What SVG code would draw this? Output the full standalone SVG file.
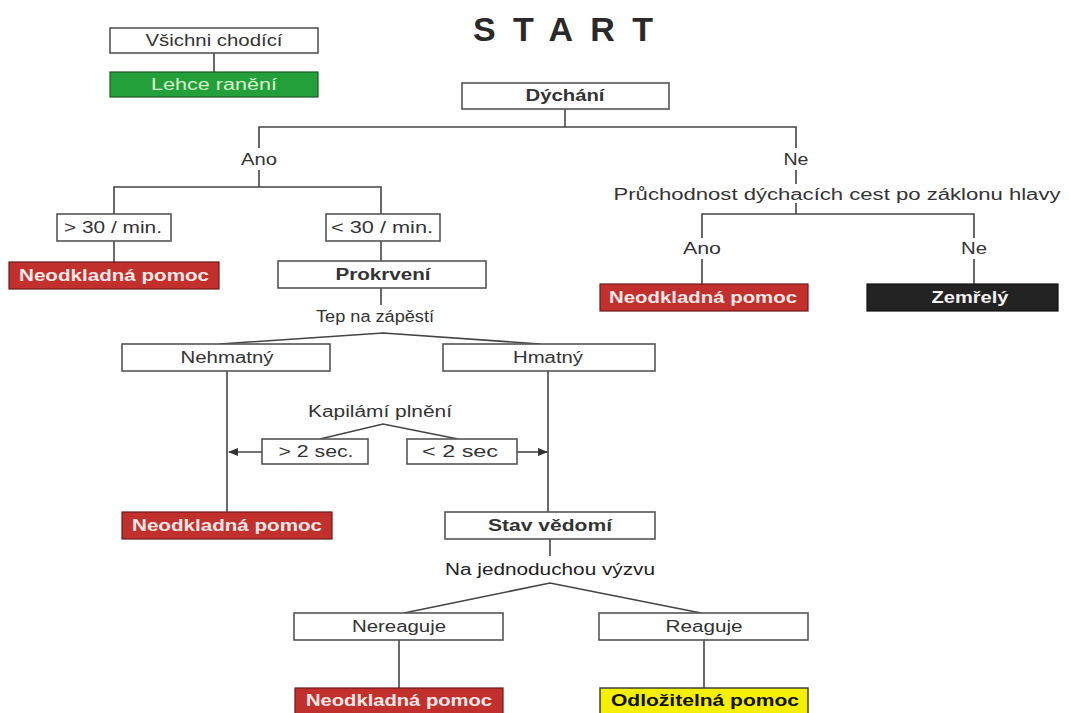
<svg xmlns="http://www.w3.org/2000/svg" width="1069" height="713" viewBox="0 0 1069 713">
<defs>
<style>
text{font-family:"Liberation Sans",Arial,sans-serif;font-size:16px;fill:#333;text-anchor:middle}
.b{font-weight:bold}
.w{fill:#fff;stroke:#555;stroke-width:1.6}
.red{fill:#c2302e;stroke:#6a1a1a;stroke-width:1.2}
.grn{fill:#23a03a;stroke:#1b5a22;stroke-width:1.2}
.blk{fill:#232323;stroke:#111;stroke-width:1.2}
.yel{fill:#f4f000;stroke:#333;stroke-width:1.4}
.tr{fill:#fbe8e6;font-weight:bold}
.tg{fill:#d6f5cc}
.tk{fill:#f2f2f2;font-weight:bold}
.c line,.c polyline{stroke:#444;stroke-width:1.6;fill:none}
</style>
<marker id="ah" viewBox="0 0 10 10" refX="9" refY="5" markerWidth="11" markerHeight="10" markerUnits="userSpaceOnUse" orient="auto">
<path d="M0,1 L10,5 L0,9 Z" fill="#333"/>
</marker>
</defs>
<rect width="1069" height="713" fill="#fff"/>
<text x="563" y="41" class="b" style="font-size:34px;fill:#2a2a2a" textLength="180" lengthAdjust="spacing">START</text>

<g class="c" id="connectors">
<line x1="214" y1="53" x2="214" y2="72"/>
<line x1="565" y1="109" x2="565" y2="127"/>
<polyline points="259,148 259,127 796,127 796,148"/>
<line x1="259" y1="170" x2="259" y2="187"/>
<polyline points="114,214 114,187 381,187 381,214"/>
<line x1="114" y1="241" x2="114" y2="262"/>
<line x1="381" y1="241" x2="381" y2="261"/>
<line x1="796" y1="170" x2="796" y2="184"/>
<line x1="796" y1="203" x2="796" y2="214"/>
<polyline points="702,238 702,214 974,214 974,238"/>
<line x1="702" y1="259" x2="702" y2="284"/>
<line x1="974" y1="259" x2="974" y2="284"/>
<line x1="381" y1="288" x2="381" y2="305"/>
<polyline points="220,344 383,333 540,344"/>
<line x1="227" y1="371" x2="227" y2="512"/>
<line x1="548" y1="371" x2="548" y2="512"/>
<polyline points="320,439 383,424 458,439"/>
<line x1="262" y1="452" x2="229" y2="452" marker-end="url(#ah)"/>
<line x1="517" y1="452" x2="547" y2="452" marker-end="url(#ah)"/>
<line x1="550" y1="539" x2="550" y2="556"/>
<polyline points="404,613 550,583 701,613"/>
<line x1="399" y1="640" x2="399" y2="688"/>
<line x1="704" y1="640" x2="704" y2="688"/>
</g>

<g id="vsichni"><rect class="w" x="110" y="28" width="208" height="25"/><text x="214" y="46" textLength="137" lengthAdjust="spacingAndGlyphs">Všichni chodící</text></g>
<g id="lehce"><rect class="grn" x="110" y="72" width="208" height="25"/><text class="tg" x="214" y="90" textLength="126" lengthAdjust="spacingAndGlyphs">Lehce ranění</text></g>
<g id="dychani"><rect class="w" x="462" y="83" width="207" height="26"/><text class="b" x="565" y="101" textLength="79" lengthAdjust="spacingAndGlyphs">Dýchání</text></g>
<g id="ano1"><text x="259" y="165" textLength="36" lengthAdjust="spacingAndGlyphs">Ano</text></g>
<g id="ne1"><text x="796" y="165" textLength="25" lengthAdjust="spacingAndGlyphs">Ne</text></g>
<g id="pruchodnost"><text x="837" y="200" textLength="447" lengthAdjust="spacingAndGlyphs">Průchodnost dýchacích cest po záklonu hlavy</text></g>
<g id="ano2"><text x="702" y="254" textLength="38" lengthAdjust="spacingAndGlyphs">Ano</text></g>
<g id="ne2"><text x="974" y="254" textLength="26" lengthAdjust="spacingAndGlyphs">Ne</text></g>
<g id="gt30"><rect class="w" x="57" y="214" width="114" height="27"/><text x="113" y="233" textLength="98" lengthAdjust="spacingAndGlyphs">&gt; 30 / min.</text></g>
<g id="lt30"><rect class="w" x="326" y="214" width="114" height="27"/><text x="382" y="233" textLength="102" lengthAdjust="spacingAndGlyphs">&lt; 30 / min.</text></g>
<g id="neod1"><rect class="red" x="9" y="262" width="210" height="27"/><text class="tr" x="114" y="281" textLength="190" lengthAdjust="spacingAndGlyphs">Neodkladná pomoc</text></g>
<g id="prokrveni"><rect class="w" x="278" y="261" width="208" height="27"/><text class="b" x="383" y="280" textLength="95" lengthAdjust="spacingAndGlyphs">Prokrvení</text></g>
<g id="neod2"><rect class="red" x="600" y="284" width="208" height="27"/><text class="tr" x="703" y="303" textLength="188" lengthAdjust="spacingAndGlyphs">Neodkladná pomoc</text></g>
<g id="zemrely"><rect class="blk" x="867" y="284" width="191" height="27"/><text class="tk" x="970" y="303" textLength="77" lengthAdjust="spacingAndGlyphs">Zemřelý</text></g>
<g id="tep"><text x="375" y="322" textLength="118" lengthAdjust="spacingAndGlyphs">Tep na zápěstí</text></g>
<g id="nehmatny"><rect class="w" x="122" y="344" width="208" height="27"/><text x="227" y="363" textLength="93" lengthAdjust="spacingAndGlyphs">Nehmatný</text></g>
<g id="hmatny"><rect class="w" x="443" y="344" width="212" height="27"/><text x="548" y="363" textLength="70" lengthAdjust="spacingAndGlyphs">Hmatný</text></g>
<g id="kapilarni"><text x="380" y="417" textLength="144" lengthAdjust="spacingAndGlyphs">Kapilámí plnění</text></g>
<g id="gt2"><rect class="w" x="262" y="439" width="106" height="25"/><text x="316" y="457" textLength="75" lengthAdjust="spacingAndGlyphs">&gt; 2 sec.</text></g>
<g id="lt2"><rect class="w" x="407" y="439" width="110" height="25"/><text x="460" y="457" textLength="76" lengthAdjust="spacingAndGlyphs">&lt; 2 sec</text></g>
<g id="neod3"><rect class="red" x="122" y="512" width="210" height="27"/><text class="tr" x="227" y="531" textLength="190" lengthAdjust="spacingAndGlyphs">Neodkladná pomoc</text></g>
<g id="stav"><rect class="w" x="445" y="512" width="210" height="27"/><text class="b" x="550" y="531" textLength="124" lengthAdjust="spacingAndGlyphs">Stav vědomí</text></g>
<g id="najednoduchou"><text x="550" y="575" textLength="210" lengthAdjust="spacingAndGlyphs" style="fill:#222">Na jednoduchou výzvu</text></g>
<g id="nereaguje"><rect class="w" x="294" y="613" width="209" height="27"/><text x="399" y="632" textLength="94" lengthAdjust="spacingAndGlyphs">Nereaguje</text></g>
<g id="reaguje"><rect class="w" x="599" y="613" width="209" height="27"/><text x="704" y="632" textLength="77" lengthAdjust="spacingAndGlyphs">Reaguje</text></g>
<g id="neod4"><rect class="red" x="295" y="688" width="208" height="26"/><text class="tr" x="399" y="706" textLength="186" lengthAdjust="spacingAndGlyphs">Neodkladná pomoc</text></g>
<g id="odlozitelna"><rect class="yel" x="600" y="688" width="208" height="26"/><text class="b" x="705" y="706" textLength="188" lengthAdjust="spacingAndGlyphs" style="fill:#111">Odložitelná pomoc</text></g>
</svg>
